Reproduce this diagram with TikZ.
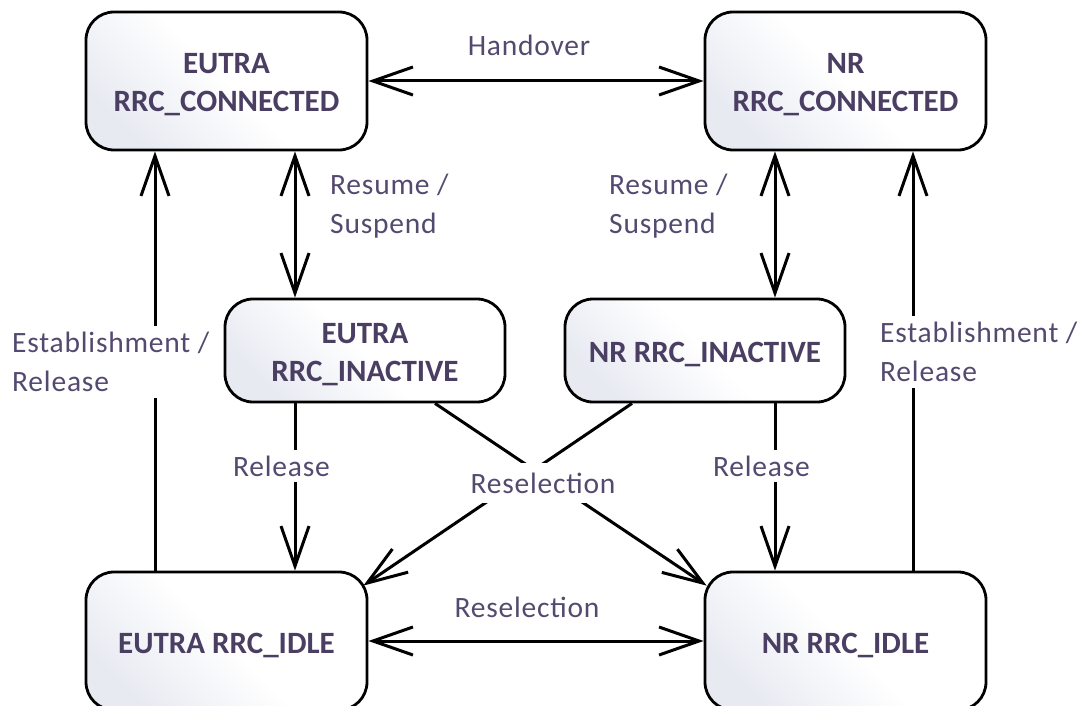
\documentclass[tikz,border=0pt]{standalone}
\usepackage{fontspec}
\setmainfont{Carlito}
\newfontfamily\edgefont[LetterSpace=2.7]{Carlito}
\usetikzlibrary{arrows.meta,calc}

\definecolor{statetext}{RGB}{74,62,98}
\definecolor{labeltext}{RGB}{84,74,112}
\definecolor{boxshade}{RGB}{232,234,242}

\tikzset{
  state/.style={draw=black, line width=2.8pt, rounded corners=28pt,
    top color=white, bottom color=boxshade, middle color=white, shading angle=-45,
    inner sep=0pt},
  statename/.style={text=statetext, font=\fontsize{31}{38}\selectfont\bfseries,
    align=center, inner sep=0pt, yshift=-4pt},
  bigstate/.style={state, minimum width=281pt, minimum height=138pt},
  smallstate/.style={state, minimum width=280pt, minimum height=103pt},
  link/.style={line width=3pt, draw=black},
  lbl/.style={text=labeltext, font=\fontsize{29.5}{39}\edgefont, align=left, inner sep=0pt},
  gap/.style={lbl, fill=white, inner xsep=4pt, inner ysep=6pt},
  >={Straight Barb[length=40pt,width=28pt]}
}

\begin{document}
\begin{tikzpicture}[x=1pt,y=-1pt]
  \useasboundingbox (0,0) rectangle (1090,706);
  \clip (0,0) rectangle (1090,706);

  % states
  \node[bigstate, label={[statename]center:EUTRA\\RRC\_CONNECTED}] (eucon) at (226.5,81) {};
  \node[bigstate, label={[statename]center:NR\\RRC\_CONNECTED}] (nrcon) at (845.5,81) {};
  \node[smallstate, label={[statename]center:EUTRA\\RRC\_INACTIVE}] (euin) at (365,350.5) {};
  \node[smallstate, label={[statename]center:NR RRC\_INACTIVE}] (nrin) at (705,350.5) {};
  \node[bigstate, label={[statename]center:EUTRA RRC\_IDLE}] (euidle) at (226.5,641) {};
  \node[bigstate, label={[statename]center:NR RRC\_IDLE}] (nridle) at (845.5,641) {};

  % handover and idle reselection
  \draw[link,<->] (eucon.east) -- (nrcon.west);
  \draw[link,<->] (euidle.east) -- (nridle.west);

  % establishment / release
  \draw[link,->] ([xshift=-71.5]euidle.north) -- ([xshift=-71.5]eucon.south);
  \draw[link,->] ([xshift=67.5]nridle.north) -- ([xshift=67.5]nrcon.south);

  % resume / suspend
  \draw[link,<->] ([xshift=-70]euin.north |- eucon.south) -- ([xshift=-70]euin.north);
  \draw[link,<->] ([xshift=70]nrin.north |- nrcon.south) -- ([xshift=70]nrin.north);

  % release from inactive
  \draw[link,->] ([xshift=-70]euin.south) -- ([xshift=-70]euin.south |- euidle.north);
  \draw[link,->] ([xshift=70]nrin.south) -- ([xshift=70]nrin.south |- nridle.north);

  % inter-system reselection from inactive
  \draw[link,->] ([xshift=70]euin.south) -- ($(nridle.north west)+(3,15)$);
  \draw[link,->] ([xshift=-73]nrin.south) -- ($(euidle.north east)+(-5,15)$);

  % labels
  \node[lbl, anchor=base] (lhand) at (529,56) {Handover};
  \node[lbl, anchor=base] (lresb) at (527,617) {Reselection};
  \node[gap, inner ysep=10pt] (lresm) at (543,483) {Reselection};
  \node[lbl, anchor=west] (lrsl) at (330,206) {Resume /\\Suspend};
  \node[lbl, anchor=west] (lrsr) at (609,206) {Resume /\\Suspend};
  \node[gap] (lrell) at (281.5,466) {Release};
  \node[gap] (lrelr) at (761.5,466) {Release};
  \node[gap, anchor=west] (lestl) at (8,362) {Establishment /\\Release};
  \node[gap, anchor=west] (lestr) at (876,352) {Establishment /\\Release};
\end{tikzpicture}
\end{document}
